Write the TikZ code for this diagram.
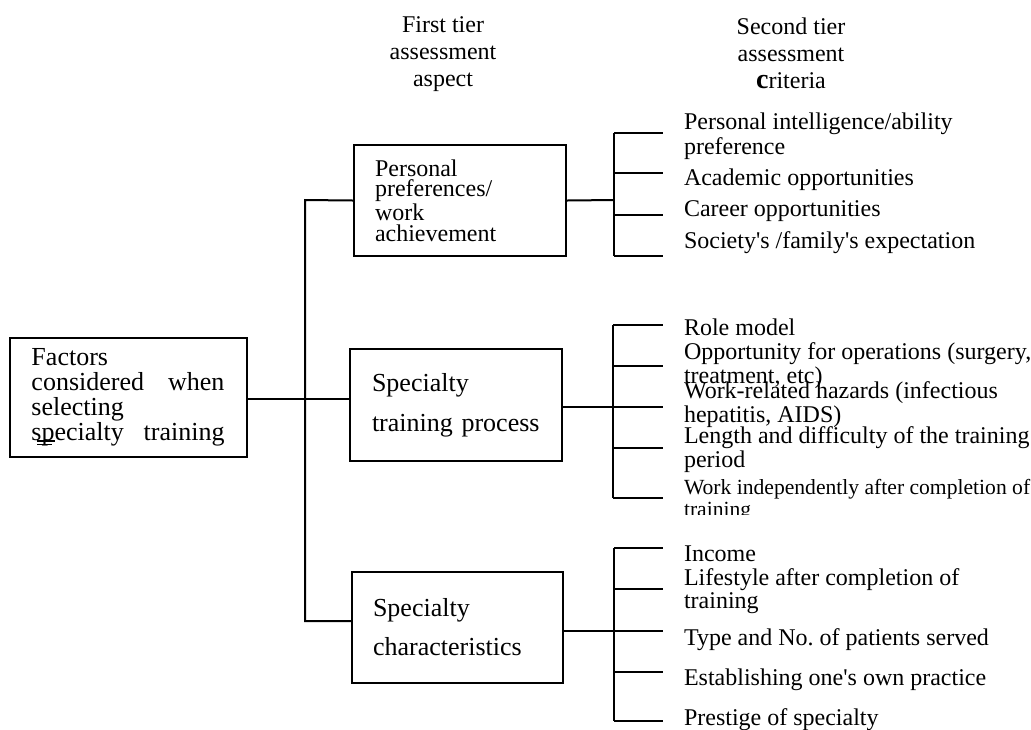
\documentclass[tikz,border=0pt]{standalone}
\usepackage{fontspec}
\setmainfont{Liberation Serif}
\tikzset{
	box/.style={draw, rectangle, align=left, inner ysep=0pt},
	head/.style={align=center, inner sep=0pt, font=\fontsize{12}{13.5}\selectfont},
	crit/.style={anchor=west, align=left, inner sep=0pt, font=\fontsize{12}{12}\selectfont},
	critb/.style={anchor=base west, align=left, inner sep=0pt},
}
\begin{document}
\begin{tikzpicture}[x=0.5pt, y=-0.5pt, line width=1pt, line join=miter]
	\useasboundingbox (0,0) rectangle (1031,729);
	%% Tieu de cot
	\node[head] (tier1) at (443,54) {First tier\\assessment\\aspect};
	\node[head] (tier2) at (791,53) {Second tier\\assessment\\{\fontsize{14}{13.5}\selectfont\bfseries c}riteria};
	%% Cac hop
	\node[box, minimum width=118pt, minimum height=59.5pt, text width=96.5pt, inner xsep=11pt,
		font=\fontsize{13}{12.5}\selectfont] (factors) at (128,397.5)
		{Factors\\considered\hfill when\\selecting\\specialty\hfill training};
	\draw[line width=0.6pt] (37,441)--(55,441) (37,444.5)--(52,444.5);
	\node[box, minimum width=106pt, minimum height=55.5pt, text width=85pt, inner xsep=10.5pt,
		font=\fontsize{12}{10.3}\selectfont] (personal) at (460,200.5)
		{Personal\\preferences/\\work\\achievement};
	\node[box, minimum width=106pt, minimum height=56pt, text width=84pt, inner xsep=11pt,
		font=\fontsize{13}{20}\selectfont] (training) at (456,405)
		{Specialty\\training process};
	\node[box, minimum width=105.5pt, minimum height=55.5pt, text width=84.5pt, inner xsep=10.5pt,
		font=\fontsize{13}{19.5}\selectfont] (characteristics) at (457.5,627.5)
		{Specialty\\characteristics};
	%% Khai bao diem
	\path
	(305,200) coordinate (T1)
	(305,399) coordinate (T2)
	(305,621) coordinate (T3)
	(614,200) coordinate (B1)
	(613,407) coordinate (B2)
	(614,631) coordinate (B3)
	;
	%% Noi cac hop
	\draw (personal.west) -- (T1) -- (T3) -- (T3 -| characteristics.west);
	\draw (factors.east |- T2) -- (T2 -| training.west);
	\draw (personal.east) -- (B1);
	\draw (training.east |- B2) -- (B2);
	\draw (characteristics.east |- B3) -- (B3);
	%% Ngoac
	\draw (614,133) -- (614,256);
	\foreach \y in {133,173,215,256}
	\draw (614,\y) -- (663,\y);
	\draw (613,325) -- (613,498);
	\foreach \y in {325,366,407,448,498}
	\draw (613,\y) -- (663,\y);
	\draw (614,548) -- (614,721);
	\foreach \y in {548,589,631,672,721}
	\draw (614,\y) -- (663,\y);
	%% Tieu chi
	\node[crit, font=\fontsize{12}{12.5}\selectfont] (c11) at (683,136.5) {Personal intelligence/ability\\preference};
	\node[crit] (c12) at (683,180) {Academic opportunities};
	\node[crit] (c13) at (683,211) {Career opportunities};
	\node[crit] (c14) at (683,243) {Society\textquotesingle s /family\textquotesingle s expectation};
	\node[critb, font=\fontsize{12}{12}\selectfont] (c21) at (683,335) {Role model};
	\node[critb, font=\fontsize{12}{10.5}\selectfont] (c22) at (683,383) {Opportunity for operations (surgery,\\treatment, etc)};
	\node[critb, font=\fontsize{12}{10}\selectfont] (c23) at (683,422) {Work-related hazards (infectious\\hepatitis, AIDS)};
	\node[critb, font=\fontsize{12}{12}\selectfont] (c24) at (683,467) {Length and difficulty of the training\\period};
	\begin{scope}
		\clip (600,0) rectangle (1031,514);
		\node[critb, font=\fontsize{10.8}{11}\selectfont] (c25) at (683,516) {Work independently after completion of\\training};
	\end{scope}
	\node[crit] (c31) at (683,553.5) {Income};
	\node[crit, font=\fontsize{12}{11.5}\selectfont] (c32) at (683,591) {Lifestyle after completion of\\training};
	\node[crit] (c33) at (683,639.5) {Type and No.\ of patients served};
	\node[crit] (c34) at (683,679.5) {Establishing one\textquotesingle s own practice};
	\node[crit] (c35) at (683,719.5) {Prestige of specialty};
\end{tikzpicture}
\end{document}
